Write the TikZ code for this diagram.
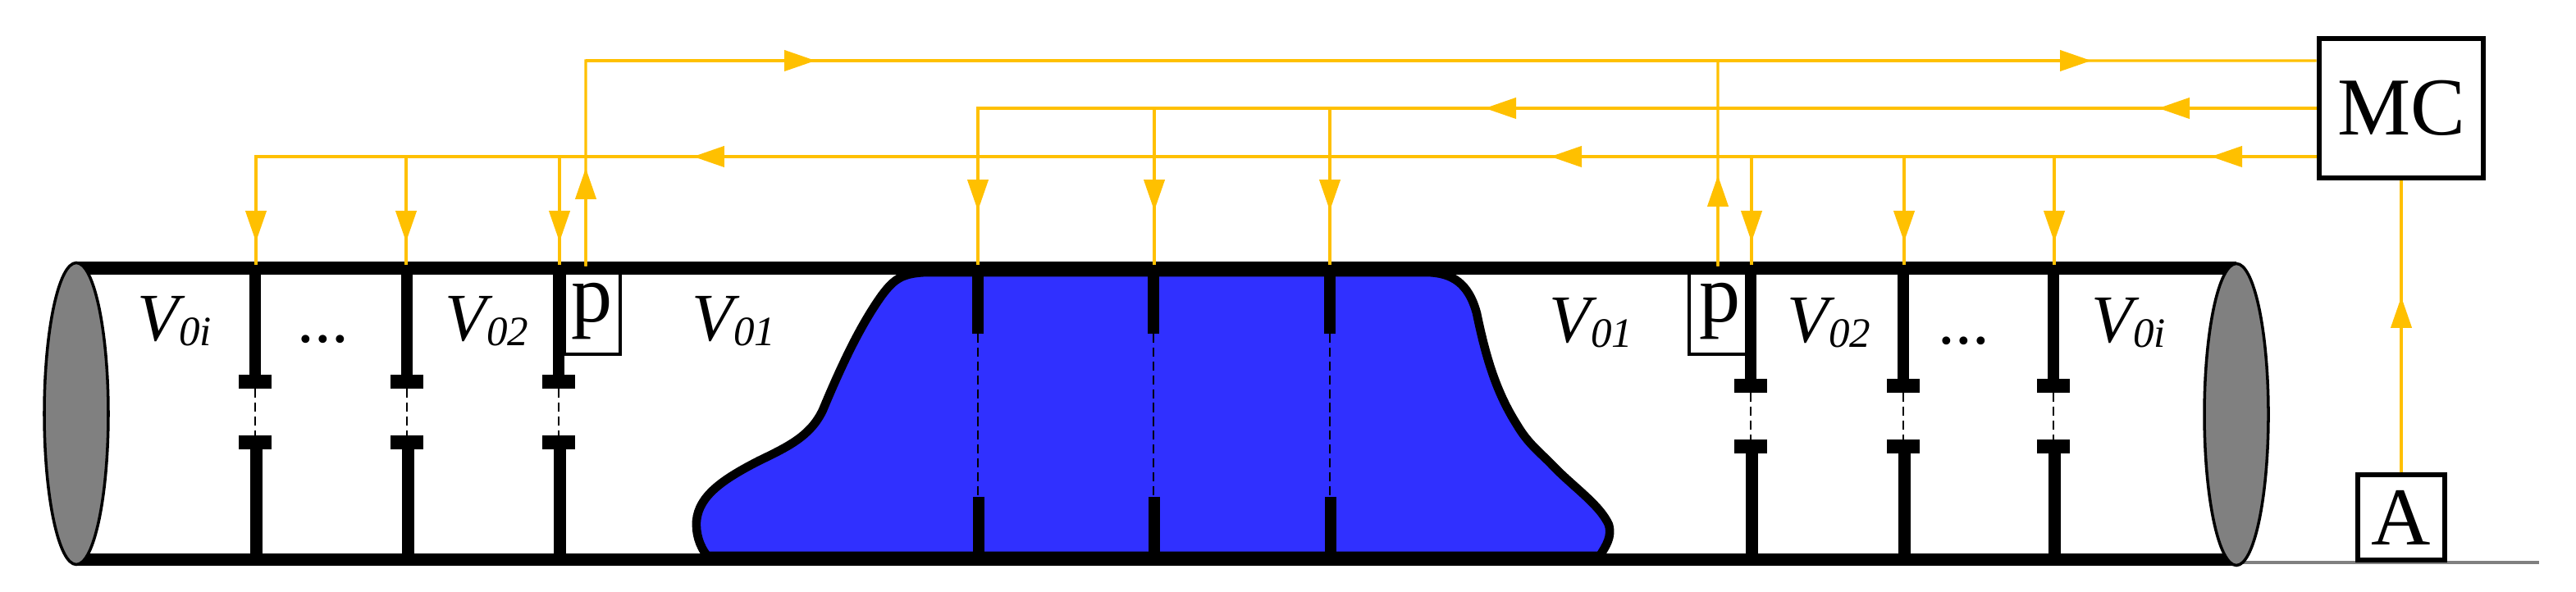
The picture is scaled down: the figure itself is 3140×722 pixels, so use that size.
\documentclass[tikz,border=0pt]{standalone}
\usepackage{fontspec}
\setmainfont{Liberation Serif}
\usetikzlibrary{arrows.meta}
\definecolor{sigyellow}{HTML}{FFC000}
\definecolor{plugblue}{HTML}{3030FF}
\newcommand{\vlab}[1]{\textit{V\raisebox{-1.7pt}{\fontsize{14.5}{15}\selectfont #1}}}
\tikzset{
sig/.style={draw=sigyellow, line width=0.9pt},
sigtip/.style={sig, -{Triangle[length=10.8pt,width=7.2pt]}},
wall/.style={line width=4.3pt},
stem/.style={line width=4.1pt},
thindash/.style={line width=0.45pt, dash pattern=on 3.2pt off 1.6pt},
box/.style={draw, fill=white, inner sep=0pt, font=\fontsize{28.5}{30}\selectfont},
vol/.style={anchor=base west, inner sep=0pt, font=\fontsize{23.5}{25}\selectfont},
gate/.pic={
  \draw[stem] (0,330) -- (0,465);
  \fill (-20,457) rectangle (20,474);
  \draw[thindash] (0,474) -- (0,531);
  \fill (-20,531) rectangle (20,548);
  \draw[stem] (1.5,540) -- (1.5,678);
  },
plugate/.pic={
  \draw[stem] (0,330) -- (0,407);
  \draw[thindash] (0,407) -- (0,606);
  \draw[stem] (1,606) -- (1,678);
  }
}
\begin{document}
\begin{tikzpicture}[x=0.01cm, y=-0.01cm]
\useasboundingbox (0,0) rectangle (3140,722);
% plug
\draw[fill=plugblue, line width=3pt, line join=round] (862,678)
  .. controls (852,665) and (848,650) .. (849,635)
  .. controls (852,605) and (880,585) .. (925,562)
  .. controls (960,545) and (988,532) .. (1003,500)
  .. controls (1028,440) and (1050,395) .. (1075,360)
  .. controls (1090,340) and (1100,333) .. (1130,332)
  -- (1740,332)
  .. controls (1770,333) and (1790,345) .. (1800,382)
  .. controls (1812,440) and (1825,480) .. (1849,518)
  .. controls (1862,540) and (1875,550) .. (1890,565)
  .. controls (1915,592) and (1950,615) .. (1961,640)
  .. controls (1965,655) and (1958,665) .. (1950,678) -- cycle;
% boxes
\node[box, line width=1.4pt, minimum width=0.68cm, minimum height=1.05cm] (pl) at (722,379.5) {p};
\node[box, line width=1.4pt, minimum width=0.76cm, minimum height=1.05cm] (pr) at (2097,379.5) {p};
\node[box, line width=1.85pt, minimum width=2cm, minimum height=1.7cm] (MC) at (2927,132) {MC};
\draw[gray, line width=0.9pt] (2726,686) -- (3095,686);
\node[box, line width=1.5pt, minimum width=1.06cm, minimum height=1.04cm] (A) at (2927,631) {A};
% pipe
\draw[wall] (93,327) -- (2726,327);
\draw[wall] (93,682.5) -- (2726,682.5);
\foreach \x in {311,496,681} \pic at (\x,0) {gate};
\foreach \x in {2134,2320,2503} \pic at (\x,5) {gate};
\foreach \x in {1192,1406,1621} \pic at (\x,0) {plugate};
\draw[fill=gray, line width=1pt] (93,504.5) ellipse [x radius=39, y radius=184];
\draw[fill=gray, line width=1pt] (2726,505.5) ellipse [x radius=39, y radius=184];
% labels
\node[vol] (v1) at (167,416) {\vlab{0i}};
\node[vol] (v2) at (542,416) {\vlab{02}};
\node[vol] (v3) at (843,416) {\vlab{01}};
\node[vol] (v4) at (1888,418) {\vlab{01}};
\node[vol] (v5) at (2178,418) {\vlab{02}};
\node[vol] (v6) at (2549,418) {\vlab{0i}};
\node[vol] (d1) at (362,418) {...};
\node[vol] (d2) at (2362,420) {...};
% signals
\coordinate (topend) at (714,74);
\coordinate (midend) at (1190,132);
\coordinate (lowend) at (310,191);
\coordinate (mctop) at (MC.west |- topend);
\coordinate (mclow) at (MC.west |- lowend);
\coordinate (prtop) at (2094,74);
\draw[sig] ([xshift=-0.08cm]pl.north) -- (topend) -- (mctop);
\draw[sig] ([xshift=-0.03cm]pr.north) -- (prtop);
\draw[sig] (MC.west) -- (midend);
\draw[sig] (mclow) -- (lowend);
\draw[sig] (A.north) -- (MC.south);
\coordinate (uptip1) at (714,205);
\coordinate (uptip2) at (2094,214);
\coordinate (uptip3) at (2927,362);
\draw[sigtip] ([xshift=-0.08cm]pl.north) -- (uptip1);
\draw[sigtip] ([xshift=-0.03cm]pr.north) -- (uptip2);
\draw[sigtip] (A.north) -- (uptip3);
\foreach \x [count=\i] in {994,2549} {
  \coordinate (toptip\i) at (\x,74);
  \draw[sigtip] (topend) -- (toptip\i);
}
\foreach \x [count=\i] in {2631,1810} {
  \coordinate (midtip\i) at (\x,132);
  \draw[sigtip] (MC.west) -- (midtip\i);
}
\foreach \x [count=\i] in {2695,1890,845} {
  \coordinate (lowtip\i) at (\x,191);
  \draw[sigtip] (mclow) -- (lowtip\i);
}
\foreach \x [count=\i] in {312,495,682,2135,2321,2504} {
  \coordinate (ldrop\i) at (\x,191);
  \coordinate (ltip\i) at (\x,295);
  \coordinate (lend\i) at (\x,323);
  \draw[sig] (ldrop\i) -- (lend\i);
  \draw[sigtip] (ldrop\i) -- (ltip\i);
}
\foreach \x [count=\i] in {1192,1407,1621} {
  \coordinate (mdrop\i) at (\x,132);
  \coordinate (mtip\i) at (\x,257);
  \coordinate (mend\i) at (\x,323);
  \draw[sig] (mdrop\i) -- (mend\i);
  \draw[sigtip] (mdrop\i) -- (mtip\i);
}
\end{tikzpicture}
\end{document}
